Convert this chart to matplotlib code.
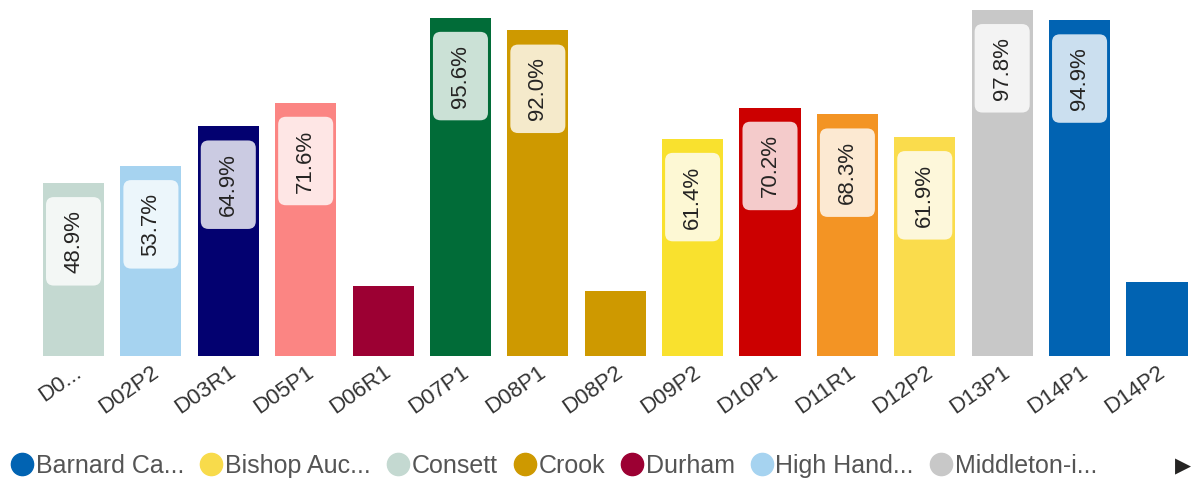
import matplotlib.pyplot as plt
from matplotlib.patches import FancyBboxPatch
from matplotlib.lines import Line2D
from matplotlib.transforms import ScaledTranslation

plt.rcParams['font.family'] = ['Liberation Sans', 'DejaVu Sans']

# data
codes = ["D0...", "D02P2", "D03R1", "D05P1", "D06R1", "D07P1", "D08P1", "D08P2",
         "D09P2", "D10P1", "D11R1", "D12P2", "D13P1", "D14P1", "D14P2"]
values = [48.9, 53.7, 64.9, 71.6, 19.8, 95.6, 92.0, 18.4,
          61.4, 70.2, 68.3, 61.9, 97.8, 94.9, 21.0]
show_label = [True, True, True, True, False, True, True, False,
              True, True, True, True, True, True, False]
bar_colors = ["#C4D9D1", "#A6D3F0", "#030170", "#FB8583", "#9C0033", "#016C38",
              "#CE9900", "#CE9900", "#F9E12E", "#CC0000", "#F39424", "#FADC4C",
              "#C8C8C8", "#0163B2", "#0163B2"]

legend_names = ["Barnard Ca...", "Bishop Auc...", "Consett", "Crook", "Durham",
                "High Hand...", "Middleton-i..."]
legend_colors = ["#0163B2", "#F8DB4B", "#C4D9D1", "#CE9900", "#9C0033",
                 "#A6D3F0", "#C8C8C8"]

fig = plt.figure(figsize=(11.91, 4.83), dpi=100)
ax = fig.add_axes([0, 0.263, 1, 0.737])

x = list(range(len(codes)))
bar_w = 0.79
ax.bar(x, values, width=bar_w, color=bar_colors)
ax.set_xlim(-0.95, 14.44)
ax.set_ylim(0, 100.6)

# rounded label boxes inside the bars
aspect = 77.4 / 3.54
for xi, v, show in zip(x, values, show_label):
    if not show:
        continue
    bw = bar_w * 0.9
    top = v - 4.0
    h = 25.0
    box = FancyBboxPatch((xi - bw / 2, top - h), bw, h,
                         boxstyle="round,pad=0,rounding_size=0.1",
                         mutation_aspect=aspect, facecolor="white",
                         edgecolor="none", alpha=0.8, zorder=3)
    ax.add_patch(box)
    ax.text(xi, top - h / 2, f"{v:.1f}%", rotation=90, ha="center", va="center",
            fontsize=16, color="#252423", zorder=4)

ax.set_xticks(x)
ax.set_xticklabels(codes, rotation=35, ha="right", rotation_mode="anchor",
                   fontsize=16, color="#333333")
shift = ScaledTranslation(-0.07, 0, fig.dpi_scale_trans)
for lab in ax.get_xticklabels():
    lab.set_transform(lab.get_transform() + shift)
ax.tick_params(axis="x", length=0, pad=4)
ax.set_yticks([])
for s in ax.spines.values():
    s.set_visible(False)

handles = [Line2D([], [], marker="o", linestyle="none", markersize=16,
                  markerfacecolor=c, markeredgecolor=c) for c in legend_colors]
fig.legend(handles, legend_names, loc="center left", bbox_to_anchor=(0.005, 0.035),
           ncol=7, frameon=False, fontsize=18, handletextpad=0.1,
           columnspacing=0.63, handlelength=0.9, labelcolor="#555555",
           borderaxespad=0, borderpad=0.2)
fig.text(0.993, 0.035, "\u25B6", ha="center", va="center", fontsize=15,
         color="#252423", family="DejaVu Sans")

fig.savefig("out.png", dpi=100)
